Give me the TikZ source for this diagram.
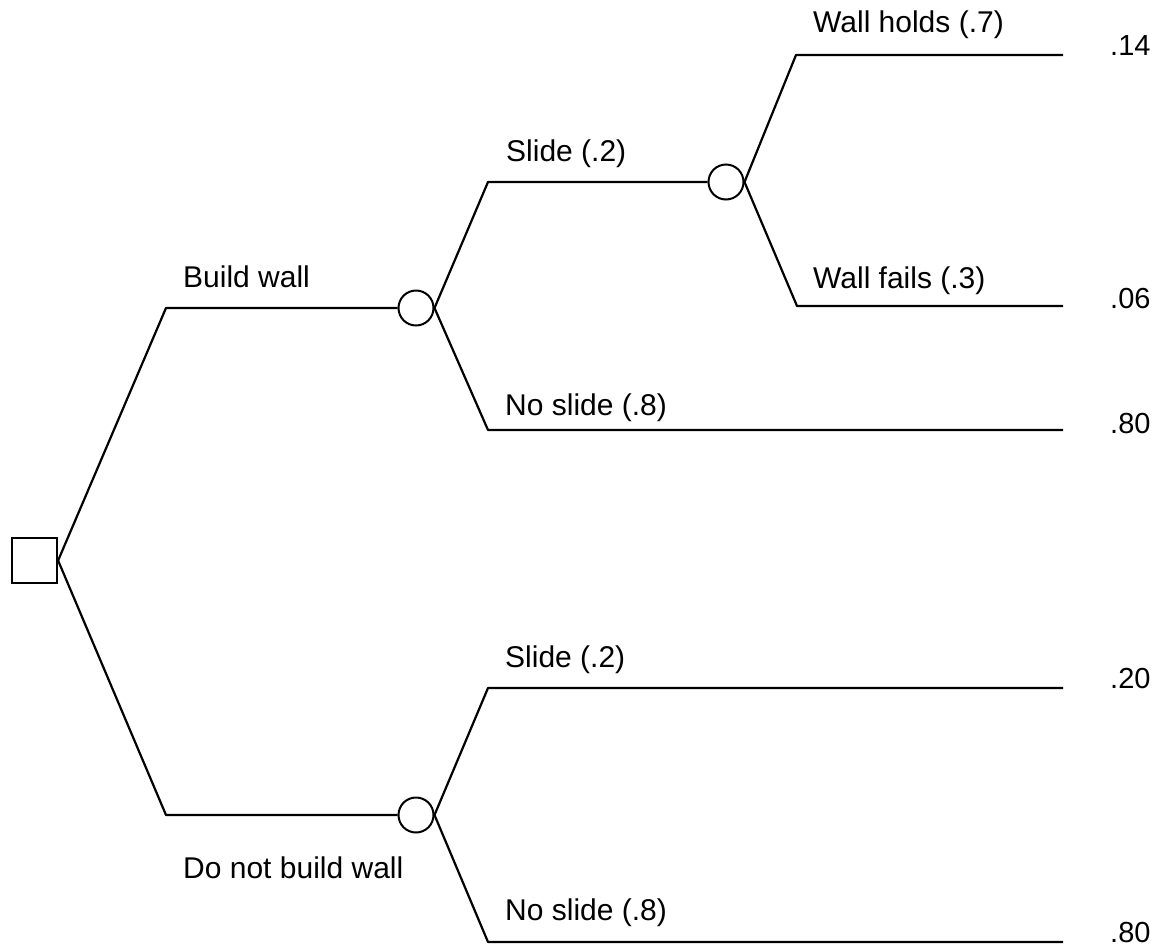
\documentclass[tikz,border=0pt]{standalone}
\usepackage{fontspec}
\setmainfont{Liberation Sans}
\begin{document}
\begin{tikzpicture}[x=1pt,y=-1pt,
  branch/.style={line width=2.2pt, line join=round},
  chance/.style={circle, draw, line width=2pt, minimum size=35pt, inner sep=0pt},
  choice/.style={rectangle, draw, line width=2.2pt, minimum size=45pt, inner sep=0pt},
  lbl/.style={anchor=base west, inner sep=0pt, font=\fontsize{30}{36}\selectfont},
  val/.style={anchor=base west, inner sep=0pt, font=\fontsize{29}{35}\selectfont}]
\useasboundingbox (0,0) rectangle (1162,948);

% decision and chance nodes
\node[choice] (d0) at (34.5,560.5) {};
\node[chance] (c1) at (416,308) {};
\node[chance] (c2) at (416,815) {};
\node[chance] (c3) at (726,182) {};

% bends and branch ends
\coordinate (k1) at (166,308);
\coordinate (k2) at (166,815);
\coordinate (k3) at (488,182);
\coordinate (k4) at (488,430);
\coordinate (k5) at (796,55);
\coordinate (k6) at (797,306);
\coordinate (k7) at (488,688);
\coordinate (k8) at (488,942);
\coordinate (e1) at (1063,55);
\coordinate (e2) at (1063,306);
\coordinate (e3) at (1063,430);
\coordinate (e4) at (1063,688);
\coordinate (e5) at (1063,942);

% branches
\draw[branch] (d0.east) -- (k1) -- (c1.west);
\draw[branch] (d0.east) -- (k2) -- (c2.west);
\draw[branch] (c1.east) -- (k3) -- (c3.west);
\draw[branch] (c1.east) -- (k4) -- (e3);
\draw[branch] (c3.east) -- (k5) -- (e1);
\draw[branch] (c3.east) -- (k6) -- (e2);
\draw[branch] (c2.east) -- (k7) -- (e4);
\draw[branch] (c2.east) -- (k8) -- (e5);

% branch labels
\node[lbl] (lbuild) at (183,287) {Build wall};
\node[lbl] (lnobuild) at (183,878) {Do not build wall};
\node[lbl] (lslide1) at (506,161) {Slide (.2)};
\node[lbl] (lnoslide1) at (505,415) {No slide (.8)};
\node[lbl] (lholds) at (813,32) {Wall holds (.7)};
\node[lbl] (lfails) at (813,288) {Wall fails (.3)};
\node[lbl] (lslide2) at (505,667) {Slide (.2)};
\node[lbl] (lnoslide2) at (505,920) {No slide (.8)};

% outcome probabilities
\node[val] (v1) at (1110,55) {.14};
\node[val] (v2) at (1110,308) {.06};
\node[val] (v3) at (1110,433) {.80};
\node[val] (v4) at (1110,688) {.20};
\node[val] (v5) at (1110,942) {.80};
\end{tikzpicture}
\end{document}
